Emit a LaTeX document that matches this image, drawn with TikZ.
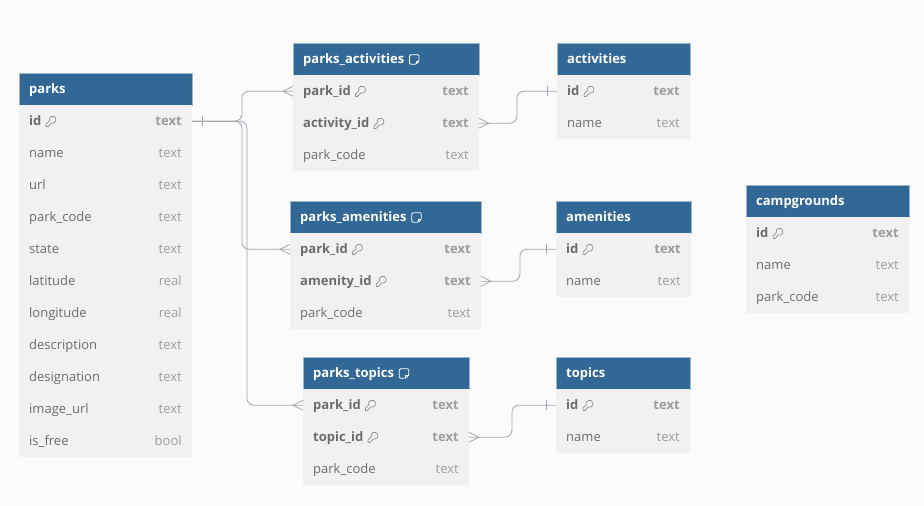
\documentclass[tikz,border=0pt]{standalone}
\usepackage{fontspec}
\setmainfont{Open Sans}
\usetikzlibrary{positioning}
\definecolor{headblue}{HTML}{316896}
\definecolor{headedge}{HTML}{9DB8CE}
\definecolor{rowgray}{HTML}{F1F1F1}
\definecolor{bgwhite}{HTML}{FBFBFB}
\definecolor{fieldgray}{HTML}{6C6C6C}
\definecolor{typegray}{HTML}{9C9C9C}
\definecolor{linegray}{HTML}{A2A5AE}
\tikzset{
	x=1pt,y=-1pt,
	head/.style={rectangle,anchor=north west,fill=headblue,draw=headedge,line width=.5pt,minimum height=32pt,inner sep=0pt},
	headtext/.style={anchor=base west,text=white,font=\fontsize{13}{13}\selectfont\bfseries,inner sep=0pt},
	row/.style={rectangle,anchor=north west,fill=rowgray,minimum height=32pt,inner sep=0pt},
	plain/.style={text=fieldgray,font=\fontsize{13}{13}\selectfont},
	plaintype/.style={text=typegray,font=\fontsize{13}{13}\selectfont},
	key/.style={text=fieldgray,font=\fontsize{13}{13}\selectfont\bfseries},
	keytype/.style={text=typegray,font=\fontsize{13}{13}\selectfont\bfseries},
	conn/.style={draw=linegray,line width=.8pt},
	crow/.pic={\draw[conn] (0,-5)--(10,0)--(0,5);},
	onebar/.pic={\draw[conn] (10,-5)--(10,5);},
	keyicon/.pic={
		\draw[typegray!70!fieldgray,line width=.7pt,line join=round] (3.2,-.8)
			arc[start angle=160,end angle=470,radius=3.5]--(2,4.8)--(0,4.8)--(0,2.4)--cycle;
	},
	noteicon/.pic={
		\draw[white,line width=.8pt,rounded corners=1.2pt] (0,-4.5)--(9.5,-4.5)--(9.5,2)--(6.5,5)--(0,5)--cycle;
		\draw[white,line width=.6pt] (9.5,2)--(6.5,2)--(6.5,5);
	}
}
% table: id, left, top, width, title, rows
\newcommand{\ertable}[6]{
	\node[head,minimum width=#4pt-.5pt] (#1) at (#2,#3) {};
	\node[headtext] (#1-title) at ([xshift=10pt,yshift=-4.5pt]#1.west) {#5};
	\foreach \rowid/\rowname/\rowtype/\rowkind [count=\i from 0] in {#6}{
		\node[row,minimum width=#4pt-.5pt] (#1-\rowid) at (#2,#3+32+32*\i) {};
		\node[\rowkind,anchor=base west,inner sep=0pt] (#1-\rowid-name) at ([xshift=10pt,yshift=-4.5pt]#1-\rowid.west) {\rowname};
		\node[\rowkind type,anchor=base east,inner sep=0pt] (#1-\rowid-type) at ([xshift=-10pt,yshift=-4.5pt]#1-\rowid.east) {\rowtype};
	}
}
\begin{document}
\begin{tikzpicture}
	\fill[bgwhite] (0,0) rectangle (924,506);
	\useasboundingbox (0,0) rectangle (924,506);
	% tables
	\ertable{parks}{19}{73}{173}{parks}{id/id/text/key,name/name/text/plain,url/url/text/plain,code/park\_code/text/plain,state/state/text/plain,lat/latitude/real/plain,lon/longitude/real/plain,desc/description/text/plain,desig/designation/text/plain,img/image\_url/text/plain,free/is\_free/bool/plain}
	\ertable{pa}{293}{43}{186}{parks\_activities}{park/park\_id/text/key,act/activity\_id/text/key,code/park\_code/text/plain}
	\ertable{ac}{557}{43}{133}{activities}{id/id/text/key,name/name/text/plain}
	\ertable{pm}{290}{201}{191}{parks\_amenities}{park/park\_id/text/key,am/amenity\_id/text/key,code/park\_code/text/plain}
	\ertable{am}{556}{201}{135}{amenities}{id/id/text/key,name/name/text/plain}
	\ertable{pt}{303}{357}{166}{parks\_topics}{park/park\_id/text/key,top/topic\_id/text/key,code/park\_code/text/plain}
	\ertable{to}{556}{357}{134}{topics}{id/id/text/key,name/name/text/plain}
	\ertable{cg}{746}{185}{163}{campgrounds}{id/id/text/key,name/name/text/plain,code/park\_code/text/plain}
	% icons
	\foreach \k in {parks-id,pa-park,pa-act,ac-id,pm-park,pm-am,am-id,pt-park,pt-top,to-id,cg-id}
		\pic at ([xshift=4.5pt,yshift=4pt]\k-name.base east) {keyicon};
	\foreach \t in {pa,pm,pt}
		\pic at ([xshift=5pt,yshift=4.5pt]\t-title.base east) {noteicon};
	% connectors
	\begin{scope}[rounded corners=7pt]
		\draw[conn] (parks-id.east)--++(50,0)|-(pa-park.west);
		\draw[conn] (parks-id.east)--++(50,0)|-(pm-park.west);
		\draw[conn] (parks-id.east)--++(55,0)|-(pt-park.west);
		\draw[conn] (pa-act.east)--++(38,0)|-(ac-id.west);
		\draw[conn] (pm-am.east)--++(39,0)|-(am-id.west);
		\draw[conn] (pt-top.east)--++(43,0)|-(to-id.west);
	\end{scope}
	% ends
	\pic at (parks-id.east) {onebar};
	\pic[xscale=-1] at (ac-id.west) {onebar};
	\pic[xscale=-1] at (am-id.west) {onebar};
	\pic[xscale=-1] at (to-id.west) {onebar};
	\pic[xscale=-1] at (pa-park.west) {crow};
	\pic[xscale=-1] at (pm-park.west) {crow};
	\pic[xscale=-1] at (pt-park.west) {crow};
	\pic at (pa-act.east) {crow};
	\pic at (pm-am.east) {crow};
	\pic at (pt-top.east) {crow};
\end{tikzpicture}
\end{document}
